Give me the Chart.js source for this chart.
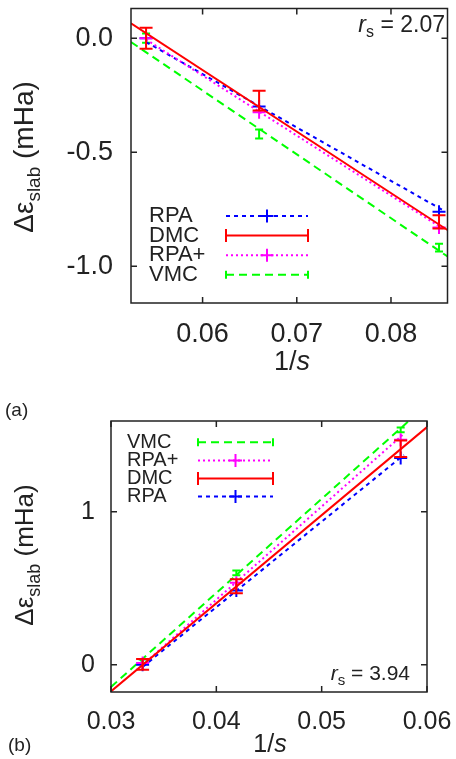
<!DOCTYPE html>
<html>
<head>
<meta charset="utf-8">
<script src="https://cdn.jsdelivr.net/npm/chart.js@4.4.0/dist/chart.umd.min.js"></script>
<style>
body{margin:0;background:#fff;}
#wrap{position:relative;width:456px;height:759px;overflow:hidden;}
#wrap canvas{position:absolute;left:0;}
.tag{position:absolute;font:19px "Liberation Sans",Arial,sans-serif;color:#222;}
</style>
</head>
<body>
<div id="wrap">
<canvas id="chartA" width="456" height="380" style="top:0"></canvas>
<canvas id="chartB" width="456" height="379" style="top:380px"></canvas>
<div class="tag" style="left:5px;top:399px">(a)</div>
<div class="tag" style="left:8px;top:734px">(b)</div>
</div>

<script>
// panel (a): r_s = 2.07
const rsA = "2.07";
const legendA = ["RPA","DMC","RPA+","VMC"];
const xA = [0.0540, 0.0660, 0.0851];
const rpaA = [0.0, -0.300, -0.761];
const rpaPlusA = [0.0, -0.325, -0.830];
const dmcA = [0.0, -0.274, -0.805];
const dmcErrA = [0.046, 0.043, 0.029];
const vmcA = [0.0, -0.420, -0.918];
const vmcErrA = [0.020, 0.020, 0.017];
// straight lines, two end points each
const fitXA = [0.0524, 0.0860];
const dmcFitA = [0.065, -0.841];
const vmcFitA = [-0.017, -0.957];
const rpaLineXA = [0.0540, 0.0855];
const rpaLineA = [-0.017, -0.754];
const rpaPlusLineA = [-0.006, -0.835];
const xTicksA = [0.06, 0.07, 0.08];
const yTicksA = [0.0, -0.5, -1.0];

// panel (b): r_s = 3.94
const rsB = "3.94";
const legendB = ["VMC","RPA+","DMC","RPA"];
const xB = [0.0330, 0.0419, 0.0575];
const rpaB = [0.0, 0.485, 1.352];
const rpaPlusB = [0.011, 0.537, 1.472];
const dmcB = [0.002, 0.513, 1.413];
const dmcErrB = [0.035, 0.046, 0.054];
const vmcB = [0.020, 0.601, 1.536];
const vmcErrB = [0.015, 0.015, 0.015];
const fitXB = [0.030, 0.060];
const dmcFitB = [-0.174, 1.554];
const vmcFitB = [-0.145, 1.700];
const rpaLineXB = [0.0330, 0.0578];
const rpaLineB = [-0.014, 1.372];
const rpaPlusLineB = [-0.001, 1.510];
const xTicksB = [0.03, 0.04, 0.05, 0.06];
const yTicksB = [0, 1];

const FONT = '"Liberation Sans", Arial, Helvetica, sans-serif';
const INK = '#222';

const styles = {
  "RPA":  {color:"#0000ff", dash:[4,4], kind:"cross"},
  "DMC":  {color:"#ff0000", dash:[],    kind:"bar", cap:6.5},
  "RPA+": {color:"#ff00ff", dash:[2,3], kind:"cross"},
  "VMC":  {color:"#00ff00", dash:[8,5], kind:"bar", cap:4}
};

function pts(xs, ys){
  return ys.map((y,i)=>({x:xs[i], y:y}));
}

function lineDs(name, xs, ys){
  const st = styles[name];
  return {label:name, data:pts(xs,ys), showLine:true, pointRadius:0,
    borderColor:st.color, borderWidth:2, borderDash:st.dash, fill:false};
}

function crossDs(name, xs, ys){
  const st = styles[name];
  return {label:name, data:pts(xs,ys), showLine:false, pointStyle:"cross",
    pointRadius:6.5, pointBorderWidth:2, borderColor:st.color, backgroundColor:st.color};
}

function barDs(name, xs, ys, errs){
  const st = styles[name];
  return {label:name, data:pts(xs,ys), showLine:false, pointRadius:0,
    borderColor:st.color, errors:errs, cap:st.cap};
}

// error bars drawn with the chart's own scales
const errorBars = {
  id:"errorBars",
  afterDatasetDraw(chart, args){
    const ds = chart.data.datasets[args.index];
    if(!ds.errors) return;
    const ctx = chart.ctx;
    const sx = chart.scales.x, sy = chart.scales.y;
    ctx.save();
    ctx.strokeStyle = ds.borderColor;
    ctx.lineWidth = 2;
    ctx.setLineDash([]);
    ds.data.forEach((p,i)=>{
      const e = ds.errors[i];
      const px = sx.getPixelForValue(p.x);
      const t = sy.getPixelForValue(p.y + e);
      const b = sy.getPixelForValue(p.y - e);
      ctx.beginPath();
      ctx.moveTo(px, t); ctx.lineTo(px, b);
      ctx.moveTo(px - ds.cap, t); ctx.lineTo(px + ds.cap, t);
      ctx.moveTo(px - ds.cap, b); ctx.lineTo(px + ds.cap, b);
      ctx.stroke();
    });
    ctx.restore();
  }
};

function drawYTitle(ctx, xBase, cy, size){
  const sub = Math.round(size*0.68);
  ctx.save();
  ctx.fillStyle = INK;
  ctx.textBaseline = "alphabetic";
  ctx.font = size + "px " + FONT;
  const w1 = ctx.measureText("\u0394\u03b5").width;
  const w3 = ctx.measureText(" (mHa)").width;
  ctx.font = sub + "px " + FONT;
  const w2 = ctx.measureText("slab").width;
  const total = w1 + w2 + w3;
  ctx.translate(xBase, cy);
  ctx.rotate(-Math.PI/2);
  let x = -total/2;
  ctx.font = size + "px " + FONT;
  ctx.fillText("\u0394\u03b5", x, 0); x += w1;
  ctx.font = sub + "px " + FONT;
  ctx.fillText("slab", x, size*0.25); x += w2;
  ctx.font = size + "px " + FONT;
  ctx.fillText(" (mHa)", x, 0);
  ctx.restore();
}

function drawXTitle(ctx, cx, base, size){
  ctx.save();
  ctx.fillStyle = INK;
  ctx.textBaseline = "alphabetic";
  ctx.font = size + "px " + FONT;
  const w1 = ctx.measureText("1/").width;
  ctx.font = "italic " + size + "px " + FONT;
  const w2 = ctx.measureText("s").width;
  let x = cx - (w1 + w2)/2;
  ctx.font = size + "px " + FONT;
  ctx.fillText("1/", x, base);
  ctx.font = "italic " + size + "px " + FONT;
  ctx.fillText("s", x + w1, base);
  ctx.restore();
}

function drawRs(ctx, right, base, size, val){
  const sub = Math.round(size*0.7);
  ctx.save();
  ctx.fillStyle = INK;
  ctx.textBaseline = "alphabetic";
  ctx.font = "italic " + size + "px " + FONT;
  const w1 = ctx.measureText("r").width;
  ctx.font = sub + "px " + FONT;
  const w2 = ctx.measureText("s").width;
  ctx.font = size + "px " + FONT;
  const tail = " = " + val;
  const w3 = ctx.measureText(tail).width;
  let x = right - (w1 + w2 + w3);
  ctx.font = "italic " + size + "px " + FONT;
  ctx.fillText("r", x, base); x += w1;
  ctx.font = sub + "px " + FONT;
  ctx.fillText("s", x, base + size*0.22); x += w2;
  ctx.font = size + "px " + FONT;
  ctx.fillText(tail, x, base);
  ctx.restore();
}

function drawLegend(ctx, names, lg){
  ctx.save();
  names.forEach((name,i)=>{
    const st = styles[name];
    const y = lg.y0 + i*lg.dy;
    ctx.fillStyle = INK;
    ctx.font = lg.size + "px " + FONT;
    ctx.textBaseline = "middle";
    ctx.textAlign = "left";
    ctx.fillText(name, lg.tx, y);
    ctx.strokeStyle = st.color;
    ctx.lineWidth = 2;
    ctx.setLineDash(st.dash);
    ctx.beginPath();
    ctx.moveTo(lg.s0, y); ctx.lineTo(lg.s1, y);
    ctx.stroke();
    ctx.setLineDash([]);
    ctx.beginPath();
    if(st.kind === "cross"){
      const m = (lg.s0 + lg.s1)/2;
      ctx.moveTo(m - 6.5, y); ctx.lineTo(m + 6.5, y);
      ctx.moveTo(m, y - 6.5); ctx.lineTo(m, y + 6.5);
    } else {
      const h = st.cap;
      ctx.moveTo(lg.s0, y - h); ctx.lineTo(lg.s0, y + h);
      ctx.moveTo(lg.s1, y - h); ctx.lineTo(lg.s1, y + h);
    }
    ctx.stroke();
  });
  ctx.restore();
}

function decor(opt){
  return {
    id:"decor",
    afterDraw(chart){
      const ctx = chart.ctx;
      const a = chart.chartArea;
      const sx = chart.scales.x, sy = chart.scales.y;
      ctx.save();
      ctx.strokeStyle = INK;
      ctx.lineWidth = 1.5;
      ctx.setLineDash([]);
      ctx.strokeRect(a.left, a.top, a.right - a.left, a.bottom - a.top);
      ctx.beginPath();
      sx.ticks.forEach(t=>{
        const px = sx.getPixelForValue(t.value);
        ctx.moveTo(px, a.bottom); ctx.lineTo(px, a.bottom - 6);
        ctx.moveTo(px, a.top); ctx.lineTo(px, a.top + 6);
      });
      sy.ticks.forEach(t=>{
        const py = sy.getPixelForValue(t.value);
        ctx.moveTo(a.left, py); ctx.lineTo(a.left + 6, py);
        ctx.moveTo(a.right, py); ctx.lineTo(a.right - 6, py);
      });
      ctx.stroke();
      ctx.restore();
      drawYTitle(ctx, opt.yTitle.x, opt.yTitle.y, opt.yTitle.size);
      drawXTitle(ctx, opt.xTitle.x, opt.xTitle.y, opt.xTitle.size);
      drawRs(ctx, opt.rs.right, opt.rs.y, opt.rs.size, opt.rs.val);
      drawLegend(ctx, opt.legend.names, opt.legend);
    }
  };
}

function makeChart(id, p){
  return new Chart(document.getElementById(id), {
    type:"scatter",
    data:{datasets:[
      lineDs("DMC", p.fitX, p.dmcFit),
      barDs("DMC", p.x, p.dmc, p.dmcErr),
      crossDs("RPA+", p.x, p.rpaPlus),
      lineDs("RPA+", p.rpaLineX, p.rpaPlusLine),
      crossDs("RPA", p.x, p.rpa),
      lineDs("RPA", p.rpaLineX, p.rpaLine),
      barDs("VMC", p.x, p.vmc, p.vmcErr),
      lineDs("VMC", p.fitX, p.vmcFit)
    ]},
    options:{
      responsive:false,
      animation:false,
      layout:{padding:p.pad},
      plugins:{legend:{display:false}, tooltip:{enabled:false}},
      scales:{
        x:{
          type:"linear", min:p.xMin, max:p.xMax,
          grid:{display:false, drawTicks:false}, border:{display:false},
          afterBuildTicks:s=>{ s.ticks = p.xTicks.map(v=>({value:v})); },
          afterFit:s=>{ s.height = p.xHeight; s.paddingLeft = 0; s.paddingRight = 0; },
          ticks:{padding:15, color:INK, font:{family:FONT, size:p.tickSize},
            callback:v=>v.toFixed(2)}
        },
        y:{
          type:"linear", min:p.yMin, max:p.yMax,
          grid:{display:false, drawTicks:false}, border:{display:false},
          afterBuildTicks:s=>{ s.ticks = p.yTicks.map(v=>({value:v})); },
          afterFit:s=>{ s.width = p.yWidth; s.paddingTop = 0; s.paddingBottom = 0; },
          ticks:{padding:p.yPad, color:INK, font:{family:FONT, size:p.tickSize},
            callback:v=>v.toFixed(p.yDec)}
        }
      }
    },
    plugins:[errorBars, decor(p.decor)]
  });
}

makeChart("chartA", {
  x:xA, rpa:rpaA, rpaPlus:rpaPlusA, dmc:dmcA, dmcErr:dmcErrA, vmc:vmcA, vmcErr:vmcErrA,
  fitX:fitXA, dmcFit:dmcFitA, vmcFit:vmcFitA,
  rpaLineX:rpaLineXA, rpaLine:rpaLineA, rpaPlusLine:rpaPlusLineA,
  xTicks:xTicksA, yTicks:yTicksA,
  xMin:0.0524, xMax:0.0860, yMin:-1.161, yMax:0.130,
  pad:{left:0, right:4, top:5, bottom:0},
  xHeight:77, yWidth:131, yPad:18, yDec:1, tickSize:27,
  decor:{
    yTitle:{x:33, y:157, size:28},
    xTitle:{x:292, y:370, size:27},
    rs:{right:445, y:31.5, size:23, val:rsA},
    legend:{names:legendA, tx:149, s0:226, s1:308, y0:216, dy:19.6, size:22}
  }
});

makeChart("chartB", {
  x:xB, rpa:rpaB, rpaPlus:rpaPlusB, dmc:dmcB, dmcErr:dmcErrB, vmc:vmcB, vmcErr:vmcErrB,
  fitX:fitXB, dmcFit:dmcFitB, vmcFit:vmcFitB,
  rpaLineX:rpaLineXB, rpaLine:rpaLineB, rpaPlusLine:rpaPlusLineB,
  xTicks:xTicksB, yTicks:yTicksB,
  xMin:0.03, xMax:0.06, yMin:-0.178, yMax:1.594,
  pad:{left:0, right:29, top:41, bottom:0},
  xHeight:67, yWidth:111, yPad:16, yDec:0, tickSize:25,
  decor:{
    yTitle:{x:33, y:175, size:26},
    xTitle:{x:270, y:371.5, size:25},
    rs:{right:410, y:300, size:21, val:rsB},
    legend:{names:legendB, tx:127, s0:198, s1:273, y0:62.3, dy:18.1, size:20}
  }
});
</script>
</body>
</html>
